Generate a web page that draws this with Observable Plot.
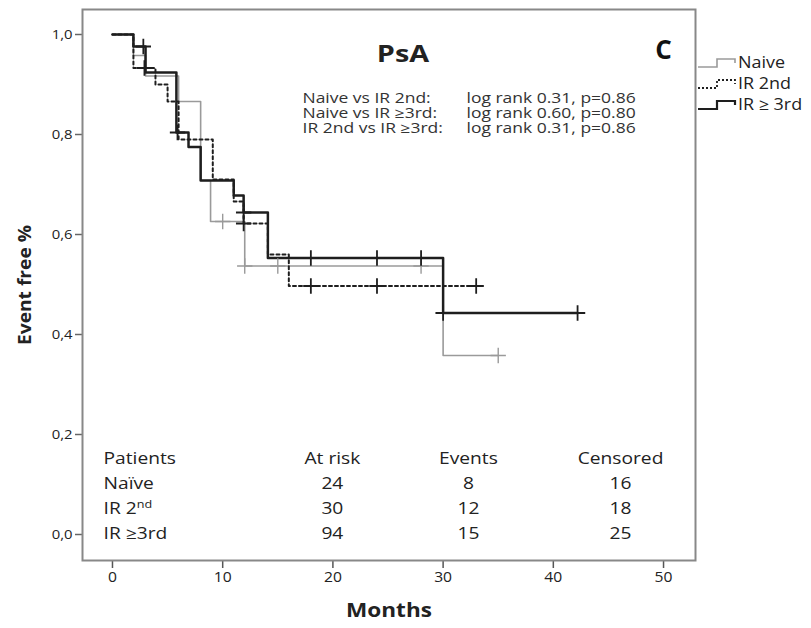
<!DOCTYPE html>
<html><head><meta charset="utf-8">
<script src="https://cdn.jsdelivr.net/npm/d3@7"></script>
<script src="https://cdn.jsdelivr.net/npm/@observablehq/plot@0.6"></script>
<style>
body{margin:0;background:#fff;font-family:"Open Sans",sans-serif;}
#wrap{position:relative;width:811px;height:628px;}
#legend{position:absolute;left:697px;top:52px;font-size:16px;color:#222;line-height:21px;}
.li{display:flex;align-items:center;height:21px;}
.li svg{margin-right:1px;}
.li span{display:inline-block;transform:scaleX(1.12);transform-origin:left center;}
</style></head><body><div id="wrap"><div id="legend"></div></div>
<script>
// ---- data ----
const seriesNames = ["Naive", "IR 2nd", "IR \u2265 3rd"];
// step curves: time (months) where value starts, survival value; last entry = end of follow-up
const naiveT = [0, 1.9, 3, 6, 8, 8.9, 12, 30, 35];
const naiveS = [1, 0.958, 0.917, 0.866, 0.708, 0.626, 0.537, 0.358, 0.358];
const ir2T = [0, 1.9, 3.9, 5, 6, 9.1, 11, 11.9, 14.1, 16, 33];
const ir2S = [1, 0.933, 0.9, 0.866, 0.79, 0.71, 0.666, 0.622, 0.56, 0.497, 0.497];
const ir3T = [0, 1.9, 3, 5.8, 6.9, 8, 11, 11.9, 14.1, 30, 42.2];
const ir3S = [1, 0.976, 0.924, 0.804, 0.775, 0.708, 0.678, 0.644, 0.553, 0.443, 0.443];
// censored times
const naiveCens = [10, 12, 15, 28, 35];
const ir2Cens = [2.9, 11.9, 18, 24, 33];
const ir3Cens = [2.8, 5.9, 11.9, 18, 24, 28, 30, 42.2];

const xTicks = [0, 10, 20, 30, 40, 50];
const yTicks = [0, 0.2, 0.4, 0.6, 0.8, 1.0];

const compLabels = ["Naive vs IR 2nd:", "Naive vs IR \u22653rd:", "IR 2nd vs IR \u22653rd:"];
const compValues = ["log rank 0.31, p=0.86", "log rank 0.60, p=0.80", "log rank 0.31, p=0.86"];

const tableHeader = ["Patients", "At risk", "Events", "Censored"];
const tableGroups = ["Na\u00efve", "IR 2nd", "IR \u22653rd"];
const atRisk = [24, 30, 94];
const events = [8, 12, 15];
const censored = [16, 18, 25];

// ---- helpers ----
const toPts = (T, S) => T.map((t, i) => ({t, s: S[i]}));
const stepAt = (T, S, t) => { let v = S[0]; for (let i = 0; i < T.length; i++) if (t >= T[i]) v = S[i]; return v; };
const cens = (T, S, C) => C.map(t => ({t, s: stepAt(T, S, t)}));

// table layout (column anchors in months, rows in y units)
const colX = [-0.81, 19.95, 32.3, 46.1];
const colAnchor = ["start", "middle", "middle", "middle"];
const rowY = [0.152, 0.101, 0.051, 0.001];
const tableCells = [];
tableHeader.forEach((h, j) => tableCells.push({x: colX[j], y: rowY[0], text: h, anchor: colAnchor[j]}));
tableGroups.forEach((g, i) => {
  [g, atRisk[i], events[i], censored[i]].forEach((v, j) =>
    tableCells.push({x: colX[j], y: rowY[i + 1], text: String(v), anchor: colAnchor[j]}));
});

const gray = "#9a9a9a", dark = "#1e1e1e";
const fmtY = d => d.toFixed(1).replace(".", ",");

const chart = Plot.plot({
  width: 811, height: 628,
  marginLeft: 82, marginRight: 116, marginTop: 9, marginBottom: 68,
  x: {domain: [-2.72, 52.9]},
  y: {domain: [-0.052, 1.05]},
  style: {fontFamily: "'Open Sans', sans-serif", background: "#fff", color: "#333", overflow: "visible"},
  marks: [
    Plot.axisY({ticks: yTicks, tickFormat: fmtY, tickSize: 7, tickPadding: 3, fontSize: 13.5, stroke: "#666", strokeWidth: 1.5, fill: "#222", label: null}),
    Plot.axisX({ticks: xTicks, tickSize: 8, tickPadding: 4, fontSize: 14, stroke: "#555", strokeWidth: 1.5, fill: "#222", label: null}),
    Plot.line(toPts(naiveT, naiveS), {x: "t", y: "s", curve: "step-after", stroke: gray, strokeWidth: 1.6}),
    Plot.line(toPts(ir2T, ir2S), {x: "t", y: "s", curve: "step-after", stroke: dark, strokeWidth: 2, strokeDasharray: "3,3"}),
    Plot.line(toPts(ir3T, ir3S), {x: "t", y: "s", curve: "step-after", stroke: dark, strokeWidth: 2.5}),
    Plot.dot(cens(naiveT, naiveS, naiveCens), {x: "t", y: "s", symbol: "plus", r: 5, stroke: gray, strokeWidth: 1.4}),
    Plot.dot(cens(ir2T, ir2S, ir2Cens), {x: "t", y: "s", symbol: "plus", r: 5, stroke: dark, strokeWidth: 1.8}),
    Plot.dot(cens(ir3T, ir3S, ir3Cens), {x: "t", y: "s", symbol: "plus", r: 5, stroke: dark, strokeWidth: 1.8}),
    Plot.frame({stroke: "#888", strokeWidth: 2}),
    Plot.text(["PsA"], {frameAnchor: "top", dx: 14, dy: 35, textAnchor: "middle", fontSize: 24, fontWeight: "bold", fill: "#222", className: "st12"}),
    Plot.text(["C"], {frameAnchor: "top-right", dx: -32, dy: 31, textAnchor: "middle", fontSize: 26, fontWeight: "bold", fill: "#111"}),
    Plot.text([compLabels.join("\n")], {frameAnchor: "top-left", dx: 220, dy: 83, lineAnchor: "top", textAnchor: "start", lineHeight: 1.07, fontSize: 14, fill: "#333", className: "st125"}),
    Plot.text([compValues.join("\n")], {frameAnchor: "top-left", dx: 384, dy: 83, lineAnchor: "top", textAnchor: "start", lineHeight: 1.07, fontSize: 14, fill: "#333", className: "st125"}),
    Plot.text(tableCells.filter(c => c.anchor === "start"), {x: "x", y: "y", text: "text", textAnchor: "start", fontSize: 16, fill: "#222", className: "tbl"}),
    Plot.text(tableCells.filter(c => c.anchor !== "start"), {x: "x", y: "y", text: "text", textAnchor: "middle", fontSize: 16, fill: "#222", className: "tbl"}),
    Plot.text(["Months"], {frameAnchor: "bottom", dy: 56, textAnchor: "middle", fontSize: 20, fontWeight: "bold", fill: "#222", className: "st115"}),
    Plot.text(["Event free %"], {frameAnchor: "left", dx: -57, rotate: -90, textAnchor: "middle", fontSize: 17, fontWeight: "bold", fill: "#222", className: "st115"})
  ]
});
document.getElementById("wrap").prepend(chart);

// superscript "nd" in the table
chart.querySelectorAll(".tbl text").forEach(t => {
  if (t.textContent === "IR 2nd") {
    t.textContent = "IR 2";
    const ts = document.createElementNS("http://www.w3.org/2000/svg", "tspan");
    ts.setAttribute("dy", "-6");
    ts.setAttribute("font-size", "10.5");
    ts.textContent = "nd";
    t.appendChild(ts);
  }
});

// the reference typography is horizontally wide: stretch text about its anchor
function stretch(selector, k) {
  chart.querySelectorAll(selector).forEach(t => {
    const tr = t.getAttribute("transform") || "";
    t.setAttribute("transform", tr + ` scale(${k},1)`);
  });
}
stretch(".tbl text", 1.2);
stretch(".st125 text", 1.25);
stretch(".st12 text", 1.2);
stretch(".st115 text", 1.13);
stretch('g[aria-label="x-axis tick label"] text', 1.12);
stretch('g[aria-label="y-axis tick label"] text', 1.1);

// legend (outside the frame, right)
const legendStyles = [
  {stroke: gray, width: 1.6, dash: null},
  {stroke: dark, width: 1.8, dash: "2,2"},
  {stroke: dark, width: 2.2, dash: null}
];
const leg = document.getElementById("legend");
seriesNames.forEach((name, i) => {
  const st = legendStyles[i];
  const row = document.createElement("div");
  row.className = "li";
  row.innerHTML = `<svg width="40" height="16"><polyline points="1,12 20,12 20,4 38,4 38,8" fill="none" stroke="${st.stroke}" stroke-width="${st.width}" ${st.dash ? `stroke-dasharray="${st.dash}"` : ""}/></svg><span>${name}</span>`;
  leg.appendChild(row);
});
</script></body></html>
